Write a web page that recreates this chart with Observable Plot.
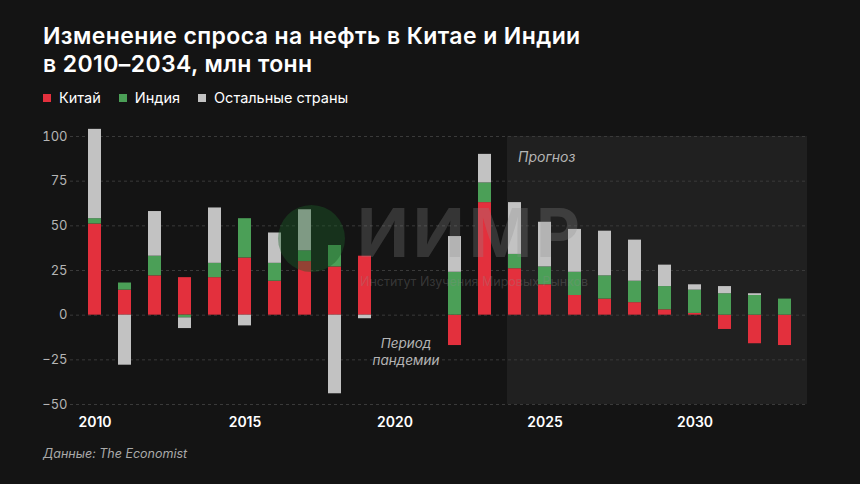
<!DOCTYPE html>
<html>
<head>
<meta charset="utf-8">
<script src="https://cdn.jsdelivr.net/npm/d3@7"></script>
<script src="https://cdn.jsdelivr.net/npm/@observablehq/plot@0.6"></script>
<style>
  html, body { margin: 0; padding: 0; background: #141414; }
  #wrap { position: relative; width: 860px; height: 484px; background: #141414; overflow: hidden; font-family: Inter, "Open Sans", sans-serif; }
  #title { position: absolute; left: 43px; top: 22px; color: #fff; font-size: 23px; font-weight: 600; line-height: 28px; letter-spacing: 0.4px; }
  #legend { position: absolute; left: 43px; top: 89px; color: #fff; font-size: 14.5px; display: flex; gap: 0; align-items: center; }
  #legend .item { display: flex; align-items: center; margin-right: 18px; }
  #legend .sw { width: 8px; height: 8px; margin-right: 8px; display: inline-block; }
  #chart { position: absolute; left: 0; top: 115px; }
  #caption { position: absolute; left: 43px; top: 446px; color: #aaa; font-size: 12.5px; font-style: italic; }
  #wm { position: absolute; left: 0; top: 0; width: 860px; height: 484px; pointer-events: none; }
  #wm .logo { position: absolute; left: 278px; top: 205px; width: 67px; height: 67px; border-radius: 50%; background: rgba(28,95,40,0.4); }
  #wm .big { position: absolute; left: 357px; top: 207px; height: 50px; line-height: 50px; font-size: 68px; font-weight: 700; color: rgba(140,140,140,0.28); letter-spacing: 4px; }
  #wm .small { position: absolute; left: 360px; top: 274px; line-height: 15px; font-size: 12.5px; color: rgba(140,140,140,0.3); }
</style>
</head>
<body>
<div id="wrap">
  <div id="title">Изменение спроса на нефть в Китае и Индии<br>в 2010–2034, млн тонн</div>
  <div id="legend"></div>
  <div id="chart"></div>
  <div id="caption">Данные: The Economist</div>
  <div id="wm"><div class="logo"></div><div class="big">ИИМР</div><div class="small">Институт Изучения Мировых Рынков</div></div>
</div>
<script>
// Data (million tonnes, change in oil demand)
const allYears = [2010,2011,2012,2013,2014,2015,2016,2017,2018,2019,2020,2021,2022,2023,2024,2025,2026,2027,2028,2029,2030,2031,2032,2033];
const years  = [2010,2011,2012,2013,2014,2015,2016,2017,2018,2019,2022,2023,2024,2025,2026,2027,2028,2029,2030,2031,2032,2033];
const china  = [51, 14, 22, 21, 21, 32, 19, 30, 27, 33, -17, 63, 26, 17, 11, 9, 7, 3, 1, -8, -16, -17];
const india  = [3, 4, 11, -1.5, 8, 22, 10, 6, 12, 0, 24, 11, 8, 10, 13, 13, 12, 13, 13, 12, 11, 9];
const others = [50, -28, 25, -6, 31, -6, 17, 23, -44, -2, 20, 16, 29, 25, 24, 25, 23, 12, 3, 4, 1, 0];
const seriesNames = ["Китай", "Индия", "Остальные страны"];
const seriesColors = ["#e3303d", "#4b9f57", "#c2c2c2"];
const yTicks = [-50, -25, 0, 25, 50, 75, 100];
const xTicks = [2010, 2015, 2020, 2025, 2030];
const forecastStart = 2024;
const forecastLabel = "Прогноз";
const pandemicLabel = "Период\nпандемии";

const rows = [];
years.forEach((y, i) => {
  rows.push({year: y, series: seriesNames[0], value: china[i]});
  rows.push({year: y, series: seriesNames[1], value: india[i]});
  rows.push({year: y, series: seriesNames[2], value: others[i]});
});

// legend
const lg = document.getElementById("legend");
seriesNames.forEach((n, i) => {
  const it = document.createElement("div");
  it.className = "item";
  it.innerHTML = `<span class="sw" style="background:${seriesColors[i]}"></span><span>${n}</span>`;
  lg.appendChild(it);
});

const chart = Plot.plot({
  width: 860,
  height: 325,
  marginLeft: 75,
  marginRight: 56,
  marginTop: 21,
  marginBottom: 36,
  style: {background: "transparent", color: "#bbb", fontFamily: "Inter, sans-serif"},
  x: {type: "band", domain: allYears, paddingInner: 0.55, paddingOuter: 0.275, label: null},
  y: {domain: [-50, 100], label: null},
  color: {domain: seriesNames, range: seriesColors},
  marks: [
    Plot.ruleY(yTicks, {stroke: "#3a3a3a", strokeDasharray: "3,3", insetLeft: -5, insetRight: -3}),
    Plot.barY(rows, {x: "year", y: "value", fill: "series", order: seriesNames}),
    Plot.axisY({ticks: yTicks, tickSize: 0, tickPadding: 8, fontSize: 13, fill: "#b5b5b5", label: null}),
    Plot.axisX({ticks: xTicks, tickFormat: d => String(d), tickSize: 0, tickPadding: 13, fontSize: 14, fontWeight: 600, fill: "#fff", label: null}),
    Plot.text([forecastLabel], {x: [forecastStart], y: [88], text: d => d, textAnchor: "start", dx: 3, fontSize: 14, fontStyle: "italic", fill: "#b5b5b5"}),
    Plot.text([pandemicLabel], {x: [2020], y: [-20], text: d => d, dx: 11, fontSize: 13.5, fontStyle: "italic", fill: "#b5b5b5", lineHeight: 1.25})
  ]
});
document.getElementById("chart").appendChild(chart);

// forecast shading, positioned through the plot's own scales
const xs = chart.scale("x");
const ys = chart.scale("y");
const x0 = xs.apply(forecastStart) - 1;
const x1 = xs.range[1] + 3;
const yTop = ys.apply(100);
const yBot = ys.apply(-50);
d3.select(chart).insert("rect", ":first-child")
  .attr("x", x0).attr("y", yTop).attr("width", x1 - x0).attr("height", yBot - yTop)
  .attr("fill", "#202020");
</script>
</body>
</html>
